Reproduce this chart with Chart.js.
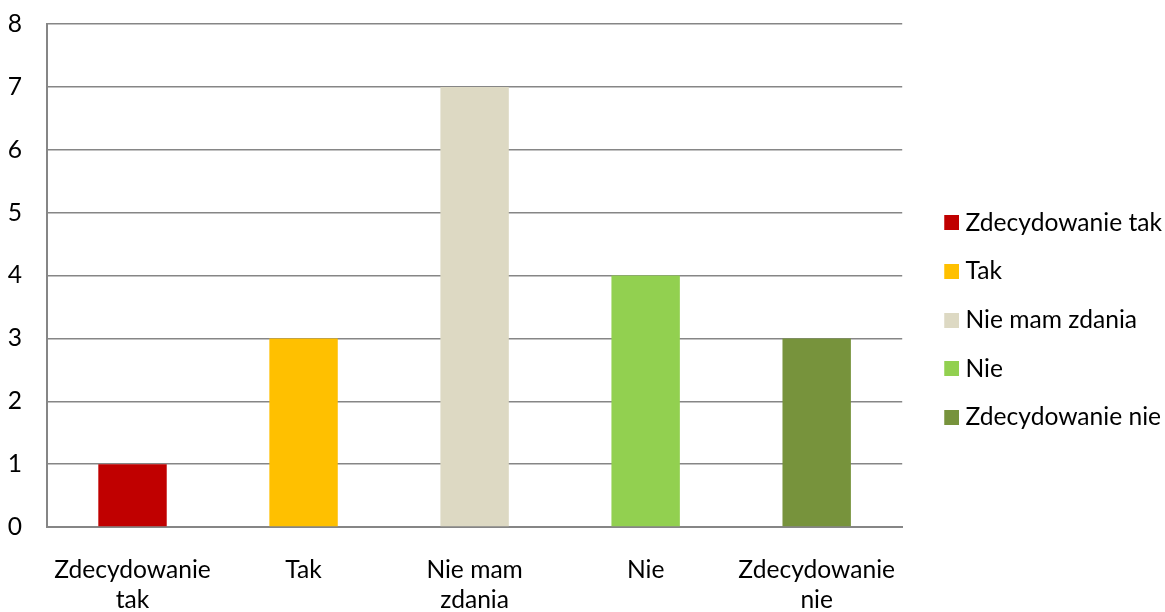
<!DOCTYPE html>
<html><head><meta charset="utf-8">
<script src="https://cdn.jsdelivr.net/npm/chart.js@4"></script>
<style>html,body{margin:0;padding:0;background:#fff;}#wrap{width:1165px;height:612px;}</style>
</head><body><div id="wrap"><canvas id="c" width="1165" height="612"></canvas></div>
<script>
const categories = [["Zdecydowanie","tak"],"Tak",["Nie mam","zdania"],"Nie",["Zdecydowanie","nie"]];
const legendLabels = ["Zdecydowanie tak","Tak","Nie mam zdania","Nie","Zdecydowanie nie"];
const values = [1,3,7,4,3];
const colors = ["#C00000","#FFC000","#DDD9C3","#92D050","#77933C"];
const yTicks = [0,1,2,3,4,5,6,7,8];

const FONT = "Lato, 'Open Sans', sans-serif";

// legend marker: square drawn at the right side of a wider transparent image
function marker(color) {
  const c = document.createElement('canvas');
  c.width = 39; c.height = 15;
  const g = c.getContext('2d');
  g.fillStyle = color; g.fillRect(24, 0, 15, 15);
  return c;
}

new Chart(document.getElementById('c'), {
  type: 'bar',
  data: { labels: categories, datasets: [{ data: values, backgroundColor: colors, borderWidth: 0, categoryPercentage: 1, barPercentage: 0.4 }] },
  options: {
    responsive: false, animation: false,
    layout: { padding: { top: 24, right: -7, left: 0, bottom: -4 } },
    plugins: {
      tooltip: { enabled: false },
      legend: {
        position: 'right', align: 'center',
        labels: {
          font: { family: FONT, size: 24.6, lineHeight: 1.2 }, color: '#000',
          usePointStyle: true, pointStyleWidth: 27, boxWidth: 27, boxHeight: 15, padding: 24,
          generateLabels: () => legendLabels.map((t,i)=>({ text: t, fillStyle: colors[i], strokeStyle: colors[i], fontColor: '#000', lineWidth: 0, hidden: false, index: i, pointStyle: marker(colors[i]) }))
        }
      }
    },
    scales: {
      y: {
        min: 0, max: 8,
        afterBuildTicks: s => { s.ticks = yTicks.map(v=>({value:v})); },
        afterFit: s => { s.width = 47; s.paddingTop = 0; s.paddingBottom = 0; },
        grid: { color: '#868686', lineWidth: 1.5, drawTicks: false },
        border: { color: '#868686', width: 2 },
        ticks: { font: { family: FONT, size: 24.6 }, color: '#000', padding: 25 }
      },
      x: {
        afterFit: s => { s.height = 89; s.paddingLeft = 0; s.paddingRight = 0; },
        grid: { display: false, drawTicks: false },
        border: { color: '#868686', width: 2 },
        ticks: { font: { family: FONT, size: 24.6, lineHeight: 1.22 }, color: '#000', padding: 28, maxRotation: 0, autoSkip: false }
      }
    }
  }
});
</script></body></html>
